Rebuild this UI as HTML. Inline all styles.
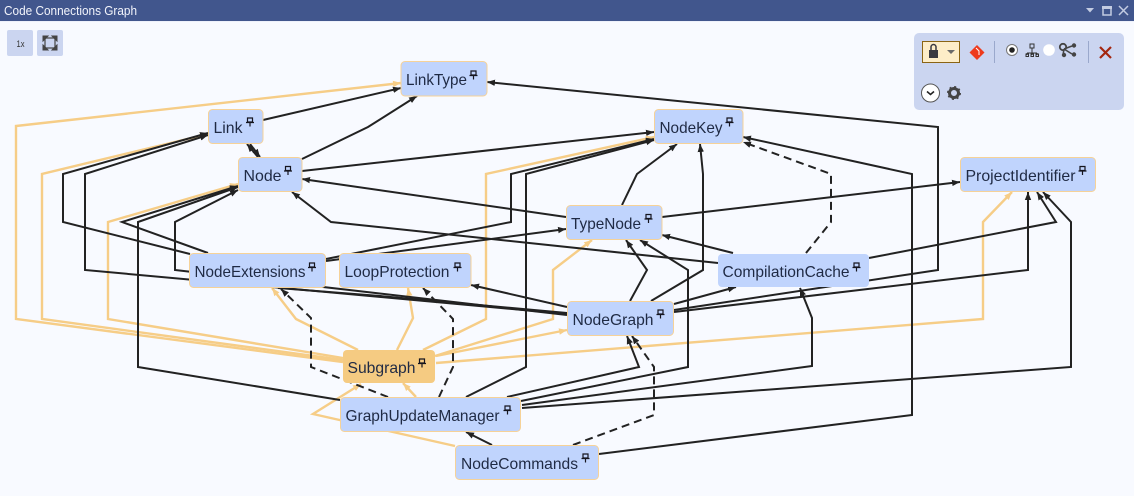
<!DOCTYPE html>
<html><head><meta charset="utf-8"><title>Code Connections Graph</title>
<style>
html,body{margin:0;padding:0;background:#f8faff;width:1134px;height:496px;overflow:hidden}
svg{display:block}
text{font-family:"Liberation Sans",sans-serif}
.k{fill:none;stroke:#222;stroke-width:2;stroke-linejoin:miter;marker-end:url(#ak)}
.b{fill:none;stroke:#222;stroke-width:2}
.d{fill:none;stroke:#222;stroke-width:2;stroke-dasharray:8 5;marker-end:url(#ak)}
.y{fill:none;stroke:#f6cd87;stroke-width:2.400;marker-end:url(#ay)}
.n{fill:#c0d4fd;stroke:#f6d298;stroke-width:1}
.l{font-size:16px;fill:#1f2a44}
.p{fill:none;stroke:#15151f;stroke-width:1.200}
</style></head><body>
<svg width="1134" height="496" viewBox="0 0 1134 496" xmlns="http://www.w3.org/2000/svg">
<defs>
<marker id="ak" markerUnits="userSpaceOnUse" markerWidth="9" markerHeight="7" refX="8" refY="3.500" orient="auto"><path d="M0 0.300L8 3.500L0 6.700z" fill="#222"/></marker>
<marker id="ay" markerUnits="userSpaceOnUse" markerWidth="9" markerHeight="7" refX="8" refY="3.500" orient="auto"><path d="M0 0.300L8 3.500L0 6.700z" fill="#f6cd87"/></marker>
</defs>
<rect width="1134" height="496" fill="#f8faff"/>
<rect width="1134" height="21" fill="#41568d"/>
<rect y="21" width="1134" height="1" fill="#eef1fb"/>
<text x="4" y="15" font-size="13" fill="#f2f4fb" textLength="133" lengthAdjust="spacingAndGlyphs">Code Connections Graph</text>
<path d="M1086 8h8l-4 4.500z" fill="#c3cce2"/>
<rect x="1103" y="7" width="8" height="8" fill="none" stroke="#c3cce2" stroke-width="1.500"/><rect x="1102" y="6" width="10" height="3" fill="#c3cce2"/>
<path d="M1119 6l9 9M1128 6l-9 9" stroke="#c3cce2" stroke-width="1.500" fill="none"/>

<rect x="7" y="30" width="26" height="26" rx="2" fill="#cbd5f0"/>
<text x="16.500" y="47" font-size="9.500" fill="#333" textLength="8" lengthAdjust="spacingAndGlyphs">1x</text>
<rect x="37" y="30" width="26" height="26" rx="2" fill="#cbd5f0"/>
<rect x="45" y="38" width="10" height="10" fill="none" stroke="#444" stroke-width="1.200"/>
<path d="M43 36h5l-5 5zM57 36h-5l5 5zM43 50h5l-5-5zM57 50h-5l5-5z" fill="#444" stroke="#444" stroke-width="1"/>

<!-- yellow edges -->
<polyline class="y" points="343,362 16,319 16,126 401,83"/>
<polyline class="y" points="343,360 42,319 42,174 208,134"/>
<polyline class="y" points="343,358 108,319 108,222 238,184"/>
<polyline class="y" points="358,350 296,319 272,288"/>
<polyline class="y" points="397,350 413,318 408,288"/>
<polyline class="y" points="423,350 486,319 486,174 654,137"/>
<polyline class="y" points="435,356 553,319 553,270 592,240"/>
<polyline class="y" points="436,356 567,330"/>
<polyline class="y" points="436,363 983,319 983,222 1012,192"/>
<polyline class="y" points="416,397 403,383"/>
<polyline class="y" points="455,446 313,414 361,384"/>

<!-- black edges -->
<polyline class="k" points="263,120 401,88"/>
<polyline class="k" points="258,157 247,144"/>
<polyline class="k" points="250,144 260,157"/>
<polyline class="k" points="302,159 368,127 417,96"/>
<polyline class="k" points="302,171 654,132"/>
<polyline class="k" points="566,217 302,179"/>
<polyline class="k" points="718,263 331,222 292,192"/>
<polyline class="k" points="190,254 63,222 63,174 208,133"/>
<polyline class="k" points="208,253 122,222 238,186"/>
<polyline class="k" points="567,314 85,270 85,174 208,135"/>
<polyline class="k" points="567,315 175,270 175,222 238,190"/>
<polyline class="b" points="567,313 380,296 278,288"/>
<polyline class="k" points="340,400 138,367 138,222 238,187"/>
<polyline class="k" points="733,253 662,235"/>
<polyline class="k" points="869,258 1056,222 1037,192"/>
<polyline class="d" points="806,253 831,222 831,174 743,142"/>
<polyline class="k" points="507,397 639,367 627,336"/>
<polyline class="k" points="521,401 688,367 688,270 640,240"/>
<polyline class="k" points="522,405 812,366 812,318 800,288"/>
<polyline class="k" points="522,408 1071,367 1071,222 1043,192"/>
<polyline class="k" points="466,397 526,367 526,174 654,140"/>
<polyline class="d" points="439,397 453,367 453,319 423,288"/>
<polyline class="d" points="388,397 311,367 311,318 281,289"/>
<polyline class="k" points="492,445 466,432"/>
<polyline class="d" points="573,445 654,415 654,367 632,336"/>
<polyline class="k" points="599,454 912,415 912,174 743,137"/>
<polyline class="k" points="567,307 471,285"/>
<polyline class="k" points="630,301 647,270 626,240"/>
<polyline class="k" points="651,301 703,270 703,174 700,144"/>
<polyline class="k" points="674,304 736,287"/>
<polyline class="k" points="674,310 938,270 938,127 487,82"/>
<polyline class="k" points="674,312 1028,270 1028,192"/>
<polyline class="k" points="326,261 566,229"/>
<polyline class="k" points="326,259 511,222 511,174 654,139"/>
<polyline class="k" points="662,217 960,182"/>
<polyline class="k" points="622,205 637,174 677,144"/>

<!-- nodes -->
<rect class="n" x="401" y="61.500" width="86" height="34.500" rx="4"/><text class="l" x="406" y="85" textLength="61" lengthAdjust="spacingAndGlyphs">LinkType</text>
<rect class="n" x="208.500" y="109.500" width="54.500" height="34" rx="4"/><text class="l" x="213.500" y="133" textLength="29" lengthAdjust="spacingAndGlyphs">Link</text>
<rect class="n" x="238.500" y="157.500" width="63.500" height="34" rx="4"/><text class="l" x="243.500" y="181" textLength="38" lengthAdjust="spacingAndGlyphs">Node</text>
<rect class="n" x="654.500" y="109.500" width="88.500" height="34" rx="4"/><text class="l" x="659.500" y="133" textLength="63" lengthAdjust="spacingAndGlyphs">NodeKey</text>
<rect class="n" x="566.500" y="205.500" width="95.500" height="34" rx="4"/><text class="l" x="571" y="229" textLength="70" lengthAdjust="spacingAndGlyphs">TypeNode</text>
<rect class="n" x="960.500" y="157.500" width="135" height="34" rx="4"/><text class="l" x="965.500" y="181" textLength="110" lengthAdjust="spacingAndGlyphs">ProjectIdentifier</text>
<rect class="n" x="189.500" y="253.500" width="136" height="34" rx="4"/><text class="l" x="194.500" y="277" textLength="111" lengthAdjust="spacingAndGlyphs">NodeExtensions</text>
<rect class="n" x="339.500" y="253.500" width="131.500" height="34" rx="4"/><text class="l" x="344.500" y="277" textLength="105" lengthAdjust="spacingAndGlyphs">LoopProtection</text>
<rect x="718" y="254" width="151" height="33" rx="4" fill="#c0d4fd"/><text class="l" x="722.500" y="277" textLength="127" lengthAdjust="spacingAndGlyphs">CompilationCache</text>
<rect class="n" x="567.500" y="301.500" width="106" height="34" rx="4"/><text class="l" x="572.500" y="325" textLength="81" lengthAdjust="spacingAndGlyphs">NodeGraph</text>
<rect x="343" y="350" width="92" height="33" rx="4" fill="#f5cb82"/><text class="l" x="347.500" y="373" textLength="68" lengthAdjust="spacingAndGlyphs">Subgraph</text>
<rect class="n" x="340.500" y="397.500" width="180" height="34" rx="4"/><text class="l" x="345.500" y="421" textLength="154" lengthAdjust="spacingAndGlyphs">GraphUpdateManager</text>
<rect class="n" x="455.500" y="445.500" width="143" height="34" rx="4"/><text class="l" x="461" y="469" textLength="117" lengthAdjust="spacingAndGlyphs">NodeCommands</text>

<!-- pins -->
<defs><g id="pin"><path class="p" d="M-2.500-4h5v4h-5zM-4 0.500h8M0 0.500v4"/></g></defs>
<use href="#pin" x="473.500" y="75"/><use href="#pin" x="250" y="122"/><use href="#pin" x="288" y="170.500"/>
<use href="#pin" x="729.500" y="122"/><use href="#pin" x="648.500" y="218.500"/><use href="#pin" x="1082.500" y="170.500"/>
<use href="#pin" x="312" y="267"/><use href="#pin" x="457.500" y="267"/><use href="#pin" x="856.500" y="267"/>
<use href="#pin" x="660.500" y="314"/><use href="#pin" x="422" y="363"/><use href="#pin" x="507.500" y="410"/><use href="#pin" x="585.500" y="458"/>

<!-- toolbar -->
<rect x="914" y="33" width="210" height="77" rx="5" fill="#cbd5f0"/>
<rect x="922.500" y="41.500" width="37" height="21" fill="#fdedc8" stroke="#8a6414" stroke-width="1"/>
<rect x="929" y="50" width="9" height="8" fill="#3a3a42"/><path d="M931 50v-3a2.500 2.500 0 0 1 5 0v3" fill="none" stroke="#3a3a42" stroke-width="1.500"/>
<path d="M947 50h8l-4 4z" fill="#6a6a6a"/>
<path d="M977 45l7.500 7.500-7.500 7.500-7.500-7.500z" fill="#ee3a1c"/><path d="M976 48l3 3v4" stroke="#fff" stroke-width="1" fill="none"/>
<rect x="994" y="41" width="1" height="22" fill="#9aa8cc"/>
<circle cx="1012" cy="50" r="5.500" fill="#fff" stroke="#777" stroke-width="1"/><circle cx="1012" cy="50" r="2.800" fill="#222"/>
<path d="M1032 48v5M1027 53h10M1027 53v2M1032 53v2M1037 53v2" stroke="#333" fill="none"/>
<rect x="1030" y="44" width="4" height="4" fill="none" stroke="#333"/><rect x="1026" y="54" width="2.500" height="2.500" fill="none" stroke="#333"/><rect x="1031" y="54" width="2.500" height="2.500" fill="none" stroke="#333"/><rect x="1036" y="54" width="2.500" height="2.500" fill="none" stroke="#333"/>
<circle cx="1049" cy="50" r="5.800" fill="#fff"/>
<path d="M1064 49l8-3M1064 49l8 5M1064 49l-1 6" stroke="#444" stroke-width="1.500" fill="none"/>
<circle cx="1063" cy="47" r="3.200" fill="none" stroke="#444" stroke-width="1.800"/><circle cx="1074" cy="45.500" r="2.200" fill="#444"/><circle cx="1074" cy="54.500" r="2.200" fill="#444"/><circle cx="1064" cy="55" r="2.200" fill="#444"/>
<rect x="1088" y="41" width="1" height="22" fill="#9aa8cc"/>
<path d="M1100 47l11 11M1111 47l-11 11" stroke="#a4260f" stroke-width="2.200" fill="none"/>
<circle cx="930.500" cy="93" r="9" fill="#fff" stroke="#555" stroke-width="1"/><path d="M927 91.500l3.500 3 3.500-3" stroke="#222" stroke-width="1.600" fill="none"/>
<circle cx="954" cy="93" r="4.500" fill="none" stroke="#444" stroke-width="3"/><circle cx="954" cy="93" r="6.200" fill="none" stroke="#444" stroke-width="1.600" stroke-dasharray="2 2.860"/>
</svg>
</body></html>
